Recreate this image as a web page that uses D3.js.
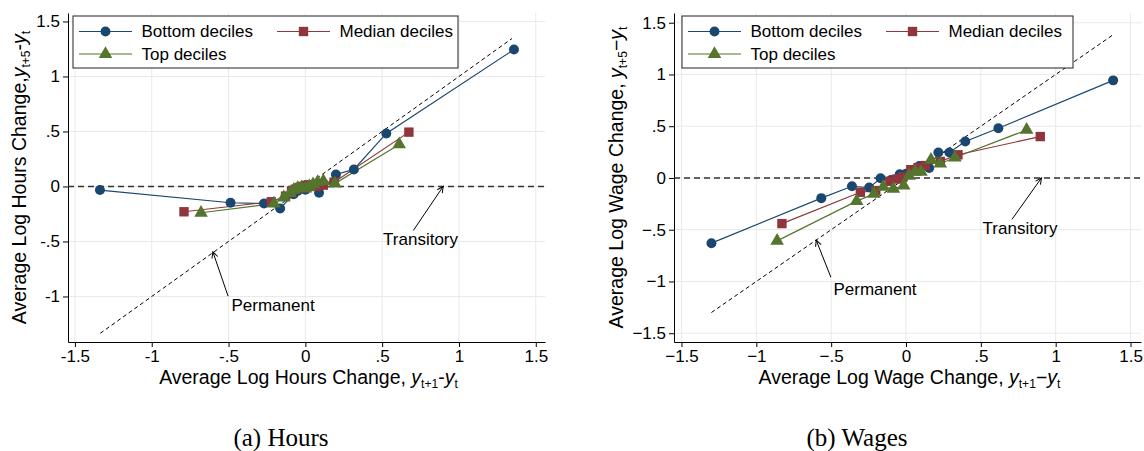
<!DOCTYPE html>
<html><head><meta charset="utf-8">
<script src="https://cdn.jsdelivr.net/npm/d3@7"></script>
<style>
body{margin:0;background:#fff}
svg{display:block}
text{font-family:"Liberation Sans",Arial,Helvetica,sans-serif;fill:#000}
text.caption{font-family:"Liberation Serif","Times New Roman",serif}
</style>
</head><body>
<svg id="c" width="1144" height="451"></svg>
<script>
// ---------- DATA ----------
const seriesNames = ["Bottom deciles", "Median deciles", "Top deciles"];
const seriesColors = ["#1a476f", "#90353b", "#55752f"];
const seriesShapes = ["circle", "square", "triangle"];

// Hours panel: [y_{t+1}-y_t, y_{t+5}-y_t]
const hoursBottom = [[-1.337,-0.033],[-0.487,-0.148],[-0.269,-0.155],[-0.164,-0.200],[-0.076,-0.070],[-0.050,-0.040],[-0.030,-0.015],[-0.012,-0.005],[0.000,-0.030],[0.018,-0.010],[0.040,0.010],[0.060,0.015],[0.089,-0.058],[0.199,0.109],[0.316,0.155],[0.527,0.482],[1.358,1.245]];
const hoursMedian = [[-0.790,-0.230],[-0.222,-0.139],[-0.129,-0.088],[-0.090,-0.040],[-0.065,-0.025],[-0.040,-0.010],[-0.020,0.000],[0.000,0.010],[0.020,0.015],[0.045,0.010],[0.070,0.000],[0.117,0.012],[0.187,0.039],[0.674,0.494]];
const hoursTop = [[-0.679,-0.239],[-0.204,-0.155],[-0.140,-0.100],[-0.100,-0.060],[-0.075,-0.030],[-0.050,-0.015],[-0.025,-0.010],[0.000,-0.020],[0.025,0.000],[0.050,0.020],[0.080,0.040],[0.117,0.048],[0.192,0.027],[0.611,0.382]];

// Wages panel
const wagesBottom = [[-1.300,-0.630],[-0.566,-0.195],[-0.361,-0.080],[-0.246,-0.093],[-0.170,-0.003],[-0.100,-0.020],[-0.042,0.035],[0.000,0.040],[0.040,0.070],[0.089,0.115],[0.155,0.096],[0.216,0.246],[0.290,0.246],[0.396,0.352],[0.617,0.480],[1.384,0.943]];
const wagesMedian = [[-0.829,-0.441],[-0.305,-0.138],[-0.202,-0.122],[-0.108,-0.032],[-0.060,-0.010],[-0.020,0.010],[0.032,0.080],[0.080,0.100],[0.130,0.120],[0.229,0.160],[0.347,0.224],[0.897,0.400]];
const wagesTop = [[-0.861,-0.608],[-0.330,-0.224],[-0.214,-0.154],[-0.152,-0.086],[-0.084,-0.106],[-0.015,-0.074],[0.020,0.020],[0.060,0.060],[0.100,0.060],[0.167,0.176],[0.229,0.138],[0.327,0.198],[0.806,0.464]];

// ticks
const tickValues = [-1.5, -1, -0.5, 0, 0.5, 1, 1.5];
const hoursXLabels = ["-1.5", "-1", "-.5", "0", ".5", "1", "1.5"];
const hoursYTicks = [-1, -0.5, 0, 0.5, 1, 1.5];
const hoursYLabels = ["-1", "-.5", "0", ".5", "1", "1.5"];
const wagesXLabels = ["\u22121.5", "\u22121", "\u2212.5", "0", ".5", "1", "1.5"];
const wagesYTicks = [-1.5, -1, -0.5, 0, 0.5, 1, 1.5];
const wagesYLabels = ["\u22121.5", "\u22121", "\u2212.5", "0", ".5", "1", "1.5"];

// reference lines / annotations (data units)
const hoursPermanent = [[-1.335,-1.335],[1.345,1.345]];
const wagesPermanent = [[-1.30,-1.30],[1.38,1.38]];
const hoursArrowTrans = [[0.703,-0.40],[0.897,0.0]];
const hoursArrowPerm = [[-0.503,-0.997],[-0.602,-0.594]];
const wagesArrowTrans = [[0.708,-0.40],[0.905,0.0]];
const wagesArrowPerm = [[-0.502,-0.959],[-0.600,-0.601]];
const hoursLabelTrans = [0.75,-0.48], hoursLabelPerm = [-0.21,-1.08];
const wagesLabelTrans = [0.762,-0.486], wagesLabelPerm = [-0.207,-1.078];

const captions = ["(a) Hours", "(b) Wages"];

// ---------- DRAW ----------
const svg = d3.select("#c");
const defs = svg.append("defs");
defs.append("marker").attr("id","ah").attr("viewBox","-8 -5 10 10")
  .attr("refX",0).attr("refY",0).attr("markerWidth",10).attr("markerHeight",10)
  .attr("markerUnits","userSpaceOnUse").attr("orient","auto")
  .append("path").attr("d","M-6,-3 L0,0 L-6,3").attr("fill","none").attr("stroke","#000").attr("stroke-width",1);

function symbolFor(shape){
  if (shape==="circle") return d3.symbol().type(d3.symbolCircle).size(78)();
  if (shape==="square") return d3.symbol().type(d3.symbolSquare).size(88)();
  return d3.symbol().type(d3.symbolTriangle).size(80)();
}

function addSubTitle(sel, base, sub1, sep, sub2, fs){
  sel.append("tspan").text(base);
  sel.append("tspan").attr("font-style","italic").text("y");
  sel.append("tspan").attr("font-size",fs*0.62).attr("dy",fs*0.22).text(sub1);
  sel.append("tspan").attr("dy",-fs*0.22).text(sep);
  sel.append("tspan").attr("font-style","italic").text("y");
  sel.append("tspan").attr("font-size",fs*0.62).attr("dy",fs*0.22).text(sub2);
}

function panel(cfg){
  const x = d3.scaleLinear().domain(cfg.xDomain).range(cfg.xRange);
  const y = d3.scaleLinear().domain(cfg.yDomain).range(cfg.yRange);
  const g = svg.append("g");
  const [x0,x1] = cfg.xRange, [yb,yt] = cfg.yRange;

  // grid
  g.append("g").selectAll("line").data(tickValues).join("line")
    .attr("x1",d=>x(d)).attr("x2",d=>x(d)).attr("y1",yb).attr("y2",yt)
    .attr("stroke","#e9e9e9").attr("stroke-width",1);
  g.append("g").selectAll("line").data(cfg.yTicks).join("line")
    .attr("y1",d=>y(d)).attr("y2",d=>y(d)).attr("x1",x0).attr("x2",x1)
    .attr("stroke","#e9e9e9").attr("stroke-width",1);

  // axes
  const ax = g.append("g").attr("transform",`translate(0,${yb})`)
    .call(d3.axisBottom(x).tickValues(tickValues).tickFormat((d,i)=>cfg.xLabels[i]).tickSize(5).tickSizeOuter(0).tickPadding(3));
  const ay = g.append("g").attr("transform",`translate(${x0},0)`)
    .call(d3.axisLeft(y).tickValues(cfg.yTicks).tickFormat((d,i)=>cfg.yLabels[i]).tickSize(5).tickSizeOuter(0).tickPadding(3));
  [ax,ay].forEach(a=>{
    a.select(".domain").attr("stroke","#000").attr("stroke-width",1);
    a.selectAll(".tick line").attr("stroke","#000");
    a.selectAll(".tick text").attr("font-size",17).attr("fill","#000");
  });

  // reference lines
  g.append("line").attr("x1",x0).attr("x2",x1).attr("y1",y(0)).attr("y2",y(0))
    .attr("stroke","#333").attr("stroke-width",1.5).attr("stroke-dasharray","6,4");
  g.append("line").attr("x1",x(cfg.perm[0][0])).attr("y1",y(cfg.perm[0][1]))
    .attr("x2",x(cfg.perm[1][0])).attr("y2",y(cfg.perm[1][1]))
    .attr("stroke","#000").attr("stroke-width",1).attr("stroke-dasharray","4,3");

  // arrows + labels
  [cfg.arrT, cfg.arrP].forEach(a=>{
    g.append("line").attr("x1",x(a[0][0])).attr("y1",y(a[0][1])).attr("x2",x(a[1][0])).attr("y2",y(a[1][1]))
      .attr("stroke","#000").attr("stroke-width",1).attr("marker-end","url(#ah)");
  });
  g.append("text").attr("x",x(cfg.labT[0])).attr("y",y(cfg.labT[1])).attr("text-anchor","middle")
    .attr("dy","0.35em").attr("font-size",17).text("Transitory");
  g.append("text").attr("x",x(cfg.labP[0])).attr("y",y(cfg.labP[1])).attr("text-anchor","middle")
    .attr("dy","0.35em").attr("font-size",17).text("Permanent");

  // series
  cfg.series.forEach((s,i)=>{
    g.append("path").datum(s).attr("fill","none").attr("stroke",seriesColors[i]).attr("stroke-width",1.2)
      .attr("d",d3.line().x(d=>x(d[0])).y(d=>y(d[1])));
  });
  cfg.series.forEach((s,i)=>{
    g.append("g").selectAll("path").data(s).join("path")
      .attr("transform",d=>`translate(${x(d[0])},${y(d[1])})`)
      .attr("d",symbolFor(seriesShapes[i])).attr("fill",seriesColors[i]);
  });

  // legend
  const L = cfg.legend;
  g.append("rect").attr("x",L.x).attr("y",L.y).attr("width",L.w).attr("height",L.h)
    .attr("fill","#fff").attr("stroke","#222").attr("stroke-width",1);
  const pos = [[0,0],[198,0],[0,1]];
  seriesNames.forEach((n,i)=>{
    const lx = L.x+6+pos[i][0], ly = L.y+15.5+pos[i][1]*22.5;
    g.append("line").attr("x1",lx).attr("x2",lx+53).attr("y1",ly).attr("y2",ly)
      .attr("stroke",seriesColors[i]).attr("stroke-width",1.2);
    g.append("path").attr("transform",`translate(${lx+26.5},${ly})`).attr("d",symbolFor(seriesShapes[i])).attr("fill",seriesColors[i]);
    g.append("text").attr("x",lx+62.5).attr("y",ly).attr("dy","0.35em").attr("font-size",17).text(n);
  });

  // axis titles
  const fs = 19.5;
  const xt = g.append("text").attr("x",(x0+x1)/2+cfg.xTitleShift).attr("y",384).attr("text-anchor","middle").attr("font-size",fs);
  addSubTitle(xt, cfg.xTitle, "t+1", cfg.sep, "t", fs);
  const yt2 = g.append("text").attr("transform",`translate(${cfg.yTitleX},${(yb+yt)/2}) rotate(-90)`).attr("text-anchor","middle").attr("font-size",fs);
  addSubTitle(yt2, cfg.yTitle, "t+5", cfg.sep, "t", fs);

  // caption
  svg.append("text").attr("class","caption").attr("x",cfg.capX).attr("y",446).attr("text-anchor","middle")
    .attr("font-size",25).text(cfg.caption);
}

panel({
  xDomain:[-1.545,1.56], xRange:[68,545], yDomain:[-1.414,1.577], yRange:[342,13],
  xLabels:hoursXLabels, yTicks:hoursYTicks, yLabels:hoursYLabels,
  series:[hoursBottom,hoursMedian,hoursTop], perm:hoursPermanent,
  arrT:hoursArrowTrans, arrP:hoursArrowPerm, labT:hoursLabelTrans, labP:hoursLabelPerm,
  legend:{x:73,y:16,w:385,h:52},
  xTitle:"Average Log Hours Change, ", yTitle:"Average Log Hours Change,", sep:"-",
  xTitleShift:2, yTitleX:26, caption:captions[0], capX:281
});
panel({
  xDomain:[-1.55,1.57], xRange:[674,1141], yDomain:[-1.585,1.594], yRange:[342,13],
  xLabels:wagesXLabels, yTicks:wagesYTicks, yLabels:wagesYLabels,
  series:[wagesBottom,wagesMedian,wagesTop], perm:wagesPermanent,
  arrT:wagesArrowTrans, arrP:wagesArrowPerm, labT:wagesLabelTrans, labP:wagesLabelPerm,
  legend:{x:682,y:16,w:391,h:52},
  xTitle:"Average Log Wage Change, ", yTitle:"Average Log Wage Change,  ", sep:"\u2212",
  xTitleShift:2, yTitleX:623, caption:captions[1], capX:857
});
</script>
</body></html>
